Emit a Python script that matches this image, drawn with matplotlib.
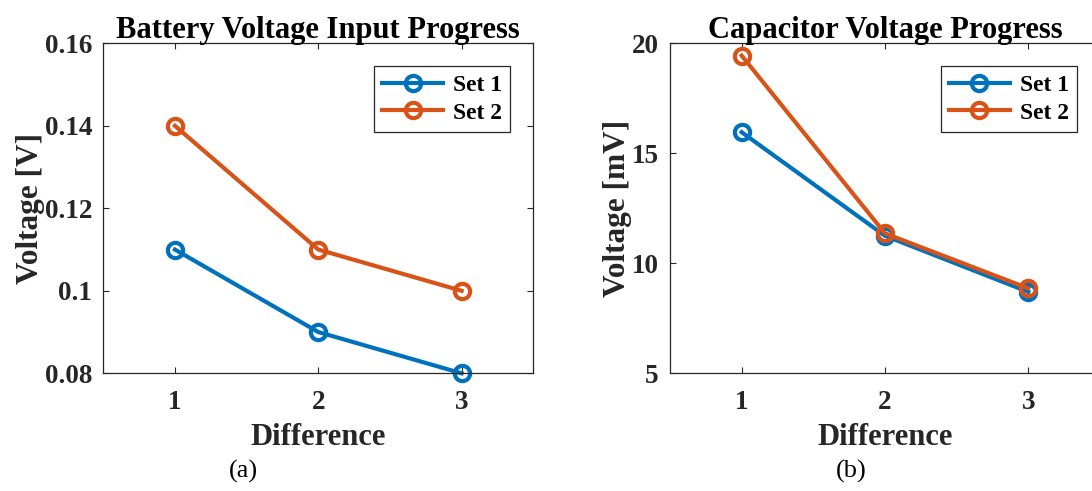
import matplotlib
matplotlib.use("Agg")
import matplotlib.pyplot as plt

x_vals = [1, 2, 3]
battery_set1 = [0.11, 0.09, 0.08]
battery_set2 = [0.14, 0.11, 0.10]
cap_set1 = [15.96, 11.25, 8.7]
cap_set2 = [19.44, 11.36, 8.86]
series_labels = ["Set 1", "Set 2"]
colors = ["#0072BD", "#D95319"]

plt.rcParams['font.family'] = ['Liberation Serif', 'DejaVu Serif']
plt.rcParams['font.weight'] = 'bold'
axc = (0.15, 0.15, 0.15)

W, H = 1092, 491
fig = plt.figure(figsize=(W / 100, H / 100), dpi=100)

def px_axes(x0, y0, x1, y1):
    return fig.add_axes([x0 / W, 1 - y1 / H, (x1 - x0) / W, (y1 - y0) / H])

ax1 = px_axes(103.3, 43.3, 533.3, 373.3)
ax2 = px_axes(670, 43.3, 1100, 373.3)

def style(ax, ylim, yticks, yticklabels, ylabel, title):
    ax.set_xlim(0.5, 3.5)
    ax.set_ylim(*ylim)
    ax.set_xticks(x_vals)
    ax.set_xticklabels([str(v) for v in x_vals])
    ax.set_yticks(yticks)
    ax.set_yticklabels(yticklabels)
    ax.tick_params(direction='in', top=True, right=True, length=4, width=0.8,
                   colors=axc, labelsize=19.5, pad=8)
    ax.tick_params(axis='x', pad=12)
    for sp in ax.spines.values():
        sp.set_color(axc)
        sp.set_linewidth(0.9)
    ax.set_xlabel("Difference", fontsize=22, fontweight='bold', color=axc, labelpad=6)
    ax.set_ylabel(ylabel, fontsize=22.5, fontweight='bold', color=axc, labelpad=0)
    ax.set_title(title, fontsize=22, fontweight='bold', pad=4)
    leg = ax.legend(loc='upper right', bbox_to_anchor=(1 - 23 / 430, 1 - 23 / 330),
                    borderaxespad=0, fontsize=17, frameon=True, fancybox=False,
                    handlelength=2.6, handletextpad=0.4, borderpad=0.35,
                    labelspacing=0.25, edgecolor=axc)
    leg.get_frame().set_linewidth(0.9)
    leg.get_frame().set_alpha(1)

for ax, d1, d2 in [(ax1, battery_set1, battery_set2), (ax2, cap_set1, cap_set2)]:
    for data, c, lab in [(d1, colors[0], series_labels[0]), (d2, colors[1], series_labels[1])]:
        ax.plot(x_vals, data, '-o', color=c, lw=3.0, markersize=11,
                markerfacecolor='none', markeredgewidth=3.0, label=lab, clip_on=False)

style(ax1, (0.08, 0.16), [0.08, 0.10, 0.12, 0.14, 0.16],
      ["0.08", "0.1", "0.12", "0.14", "0.16"], "Voltage [V]",
      "Battery Voltage Input Progress")
style(ax2, (5, 20), [5, 10, 15, 20], ["5", "10", "15", "20"], "Voltage [mV]",
      "Capacitor Voltage Progress")

fig.text(243 / W, 1 - 471 / H, "(a)", fontsize=19, fontweight='normal',
         ha='center', va='center')
fig.text(851 / W, 1 - 471 / H, "(b)", fontsize=19, fontweight='normal',
         ha='center', va='center')

fig.savefig("out.png", dpi=100)
